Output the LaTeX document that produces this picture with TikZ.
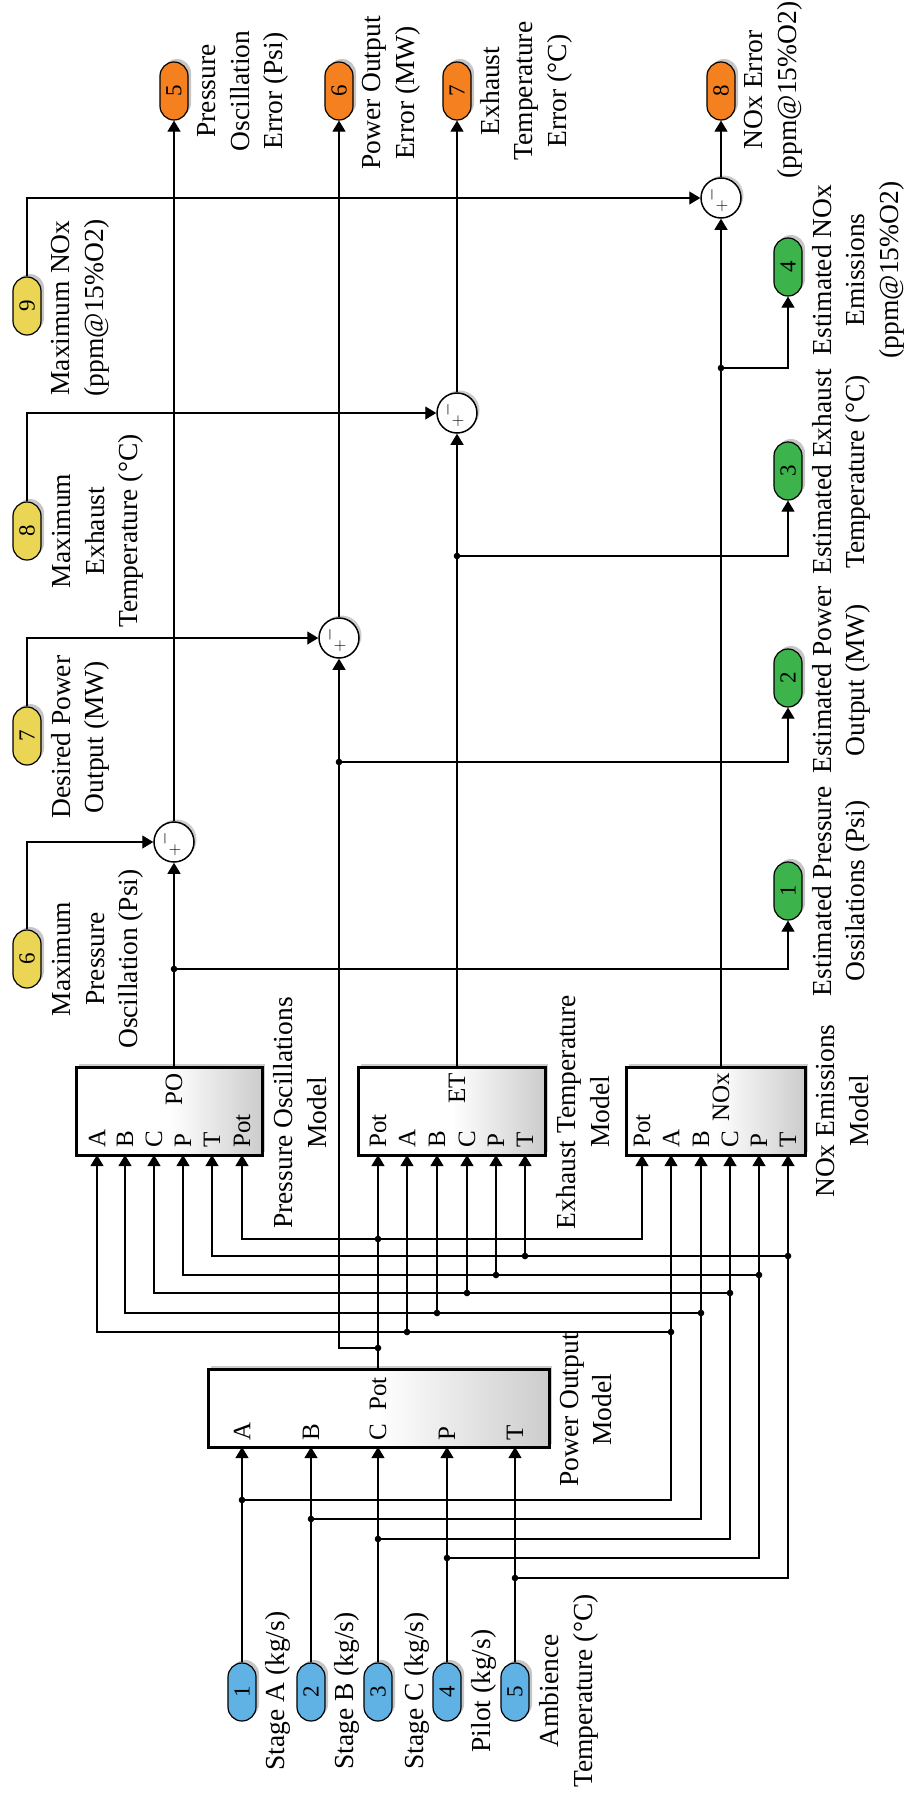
\documentclass[tikz,border=0pt]{standalone}
\usepackage{fontspec}
\setmainfont{Liberation Serif}
\usepackage{graphicx}
\usetikzlibrary{positioning, shadows, calc, arrows.meta}

\definecolor{inblue}{RGB}{96,178,228}
\definecolor{outgreen}{RGB}{60,180,75}
\definecolor{errorange}{RGB}{245,128,32}
\definecolor{refyellow}{RGB}{234,214,84}

\tikzset{
  pill/.style={draw=black, line width=1.2pt, rounded corners=14pt, minimum width=28pt, minimum height=58pt,
    inner sep=0pt, font=\fontsize{23}{23}\selectfont,
    drop shadow={shadow xshift=3pt, shadow yshift=3pt, opacity=0.45}},
  model/.style={draw=black, line width=3pt, inner sep=0pt, left color=white, right color=black!20, middle color=white,
    drop shadow={shadow xshift=3pt, shadow yshift=3pt, opacity=0.4}},
  sumnode/.style={circle, draw=black, line width=1.5pt, fill=white, minimum size=40pt, inner sep=0pt,
    drop shadow={shadow xshift=2.5pt, shadow yshift=2.5pt, opacity=0.4}},
  lbl/.style={rotate=90, align=center, font=\fontsize{27.5}{33.5}\selectfont, inner sep=0pt},
  plbl/.style={rotate=90, font=\fontsize{25}{25}\selectfont, inner sep=0pt},
  sgn/.style={inner sep=0pt, font=\fontsize{16}{16}\selectfont},
  wire/.style={line width=1.2pt},
  arr/.style={wire, -{Triangle[length=11pt, width=13pt]}}
}

\begin{document}
\begin{tikzpicture}[x=1pt, y=-1pt]
\useasboundingbox (0,0) rectangle (908,1796);

% inputs
\node[pill, fill=inblue] (in1) at (242,1692) {\rotatebox{90}{1}};
\node[pill, fill=inblue] (in2) at (311,1692) {\rotatebox{90}{2}};
\node[pill, fill=inblue] (in3) at (378,1692) {\rotatebox{90}{3}};
\node[pill, fill=inblue] (in4) at (447,1692) {\rotatebox{90}{4}};
\node[pill, fill=inblue] (in5) at (515,1692) {\rotatebox{90}{5}};
\node[lbl] (lin1) at (278,1691) {Stage A (kg/s)};
\node[lbl] (lin2) at (347,1691) {Stage B (kg/s)};
\node[lbl] (lin3) at (417,1691) {Stage C (kg/s)};
\node[lbl] (lin4) at (484,1691) {Pilot (kg/s)};
\node[lbl] (lin5) at (569,1691) {Ambience\\Temperature (°C)};

% references
\node[pill, fill=refyellow] (ref6) at (27,959) {\rotatebox{90}{6}};
\node[pill, fill=refyellow] (ref7) at (27,736) {\rotatebox{90}{7}};
\node[pill, fill=refyellow] (ref8) at (27,531) {\rotatebox{90}{8}};
\node[pill, fill=refyellow] (ref9) at (27,306) {\rotatebox{90}{9}};
\node[lbl] (lref6) at (98,959) {Maximum\\Pressure\\Oscillation (Psi)};
\node[lbl] (lref7) at (80.5,737) {Desired Power\\Output (MW)};
\node[lbl] (lref8) at (98,531) {Maximum\\Exhaust\\Temperature (°C)};
\node[lbl] (lref9) at (80.5,308) {Maximum NOx\\(ppm@15\%O2)};

% estimated outputs
\node[pill, fill=outgreen] (est1) at (788,891) {\rotatebox{90}{1}};
\node[pill, fill=outgreen] (est2) at (788,678) {\rotatebox{90}{2}};
\node[pill, fill=outgreen] (est3) at (788,471) {\rotatebox{90}{3}};
\node[pill, fill=outgreen] (est4) at (788,267) {\rotatebox{90}{4}};
\node[lbl] (lest1) at (841.5,891) {Estimated Pressure\\Ossilations (Psi)};
\node[lbl] (lest2) at (841.5,680) {Estimated Power\\Output (MW)};
\node[lbl] (lest3) at (841.5,472) {Estimated Exhaust\\Temperature (°C)};
\node[lbl] (lest4) at (858,270) {Estimated NOx\\Emissions\\(ppm@15\%O2)};

% error outputs
\node[pill, fill=errorange] (err5) at (174,91) {\rotatebox{90}{5}};
\node[pill, fill=errorange] (err6) at (339,91) {\rotatebox{90}{6}};
\node[pill, fill=errorange] (err7) at (457,91) {\rotatebox{90}{7}};
\node[pill, fill=errorange] (err8) at (721,91) {\rotatebox{90}{8}};
\node[lbl] (lerr5) at (243,91) {Pressure\\Oscillation\\Error (Psi)};
\node[lbl] (lerr6) at (391.5,93) {Power Output\\Error (MW)};
\node[lbl] (lerr7) at (526,91) {Exhaust\\Temperature\\Error (°C)};
\node[lbl] (lerr8) at (773.5,90) {NOx Error\\(ppm@15\%O2)};

% models
\node[model, minimum width=341pt, minimum height=78pt] (pow) at (378.5,1408) {};
\node[model, minimum width=186pt, minimum height=88pt] (pres) at (169,1111) {};
\node[model, minimum width=187pt, minimum height=88pt] (exh) at (451.5,1111) {};
\node[model, minimum width=179pt, minimum height=88pt] (nox) at (715.5,1111) {};
\node[lbl] (lpow) at (586,1410) {Power Output\\Model};
\node[lbl] (lpres) at (300,1113) {Pressure Oscillations\\Model};
\node[lbl] (lexh) at (583,1112) {Exhaust Temperature\\Model};
\node[lbl] (lnox) at (842.5,1111) {NOx Emissions\\Model};

% port labels
\node[plbl, anchor=west] (tpowA) at (242,1441) {A};
\node[plbl, anchor=west] (tpowB) at (311,1441) {B};
\node[plbl, anchor=west] (tpowC) at (378,1441) {C};
\node[plbl, anchor=west] (tpowP) at (447,1441) {P};
\node[plbl, anchor=west] (tpowT) at (515,1441) {T};
\node[plbl, anchor=east] (tpowO) at (378,1377) {Pot};
\node[plbl, anchor=west] (tpresA) at (97,1148) {A};
\node[plbl, anchor=west] (tpresB) at (125,1148) {B};
\node[plbl, anchor=west] (tpresC) at (154,1148) {C};
\node[plbl, anchor=west] (tpresP) at (183,1148) {P};
\node[plbl, anchor=west] (tpresT) at (212,1148) {T};
\node[plbl, anchor=west] (tpresPot) at (242,1148) {Pot};
\node[plbl, anchor=east] (tpresO) at (174,1073) {PO};
\node[plbl, anchor=west] (texhPot) at (378,1148) {Pot};
\node[plbl, anchor=west] (texhA) at (407,1148) {A};
\node[plbl, anchor=west] (texhB) at (437,1148) {B};
\node[plbl, anchor=west] (texhC) at (467,1148) {C};
\node[plbl, anchor=west] (texhP) at (496,1148) {P};
\node[plbl, anchor=west] (texhT) at (525,1148) {T};
\node[plbl, anchor=east] (texhO) at (457,1073) {ET};
\node[plbl, anchor=west] (tnoxPot) at (642,1148) {Pot};
\node[plbl, anchor=west] (tnoxA) at (671,1148) {A};
\node[plbl, anchor=west] (tnoxB) at (701,1148) {B};
\node[plbl, anchor=west] (tnoxC) at (730,1148) {C};
\node[plbl, anchor=west] (tnoxP) at (759,1148) {P};
\node[plbl, anchor=west] (tnoxT) at (788,1148) {T};
\node[plbl, anchor=east] (tnoxO) at (721,1073) {NOx};

% sums
\node[sumnode] (sPO) at (174,842) {};
\node[sumnode] (sPow) at (339,638) {};
\node[sumnode] (sET) at (457,413) {};
\node[sumnode] (sNOx) at (721,198) {};
\node[sgn, rotate=90] (mPO) at ($(sPO)+(-9,-3)$) {$-$};
\node[sgn] (pPO) at ($(sPO)+(1,8)$) {$+$};
\node[sgn, rotate=90] (mPow) at ($(sPow)+(-9,-3)$) {$-$};
\node[sgn] (pPow) at ($(sPow)+(1,8)$) {$+$};
\node[sgn, rotate=90] (mET) at ($(sET)+(-9,-3)$) {$-$};
\node[sgn] (pET) at ($(sET)+(1,8)$) {$+$};
\node[sgn, rotate=90] (mNOx) at ($(sNOx)+(-9,-3)$) {$-$};
\node[sgn] (pNOx) at ($(sNOx)+(1,8)$) {$+$};

% port points
\coordinate (powA) at (242,1447); \coordinate (powB) at (311,1447); \coordinate (powC) at (378,1447);
\coordinate (powP) at (447,1447); \coordinate (powT) at (515,1447); \coordinate (powO) at (378,1369);
\coordinate (presA) at (97,1155); \coordinate (presB) at (125,1155); \coordinate (presC) at (154,1155);
\coordinate (presP) at (183,1155); \coordinate (presT) at (212,1155); \coordinate (presPot) at (242,1155);
\coordinate (presO) at (174,1067);
\coordinate (exhPot) at (378,1155); \coordinate (exhA) at (407,1155); \coordinate (exhB) at (437,1155);
\coordinate (exhC) at (467,1155); \coordinate (exhP) at (496,1155); \coordinate (exhT) at (525,1155);
\coordinate (exhO) at (457,1067);
\coordinate (noxPot) at (642,1155); \coordinate (noxA) at (671,1155); \coordinate (noxB) at (701,1155);
\coordinate (noxC) at (730,1155); \coordinate (noxP) at (759,1155); \coordinate (noxT) at (788,1155);
\coordinate (noxO) at (721,1067);

% branch points
\coordinate (jA) at (242,1500); \coordinate (jB) at (311,1519); \coordinate (jC) at (378,1539);
\coordinate (jP) at (447,1558); \coordinate (jT) at (515,1578);
\coordinate (kA) at (671,1332); \coordinate (kB) at (701,1313); \coordinate (kC) at (730,1293);
\coordinate (kP) at (759,1275); \coordinate (kT) at (788,1256);
\coordinate (jPot) at (378,1348); \coordinate (kPot) at (378,1239);
\coordinate (jPO) at (174,969); \coordinate (jPow) at (339,762);
\coordinate (jET) at (457,556); \coordinate (jNOx) at (721,368);

% inputs to power output model
\draw[arr] (in1.north) -- (powA);
\draw[arr] (in2.north) -- (powB);
\draw[arr] (in3.north) -- (powC);
\draw[arr] (in4.north) -- (powP);
\draw[arr] (in5.north) -- (powT);

% inputs to nox model
\draw[arr] (jA) -| (noxA);
\draw[arr] (jB) -| (noxB);
\draw[arr] (jC) -| (noxC);
\draw[arr] (jP) -| (noxP);
\draw[arr] (jT) -| (noxT);

% inputs to pressure oscillation model
\draw[arr] (kA) -| (presA);
\draw[arr] (kB) -| (presB);
\draw[arr] (kC) -| (presC);
\draw[arr] (kP) -| (presP);
\draw[arr] (kT) -| (presT);

% inputs to exhaust temperature model
\draw[arr] (exhA |- kA) -- (exhA);
\draw[arr] (exhB |- kB) -- (exhB);
\draw[arr] (exhC |- kC) -- (exhC);
\draw[arr] (exhP |- kP) -- (exhP);
\draw[arr] (exhT |- kT) -- (exhT);

% power output feedback
\draw[wire] (powO) -- (jPot);
\draw[arr] (jPot) -- (exhPot);
\draw[arr] (kPot) -| (presPot);
\draw[arr] (kPot) -| (noxPot);
\draw[arr] (jPot) -| (sPow.south);
\draw[arr] (jPow) -| (est2.south);

% model outputs
\draw[arr] (presO) -- (sPO.south);
\draw[arr] (jPO) -| (est1.south);
\draw[arr] (exhO) -- (sET.south);
\draw[arr] (jET) -| (est3.south);
\draw[arr] (noxO) -- (sNOx.south);
\draw[arr] (jNOx) -| (est4.south);

% references into sums
\draw[arr] (ref6.north) |- (sPO.west);
\draw[arr] (ref7.north) |- (sPow.west);
\draw[arr] (ref8.north) |- (sET.west);
\draw[arr] (ref9.north) |- (sNOx.west);

% errors
\draw[arr] (sPO.north) -- (err5.south);
\draw[arr] (sPow.north) -- (err6.south);
\draw[arr] (sET.north) -- (err7.south);
\draw[arr] (sNOx.north) -- (err8.south);

% junction dots
\foreach \j in {jA,jB,jC,jP,jT,kA,kB,kC,kP,kT,jPot,kPot,jPO,jPow,jET,jNOx}
  \fill (\j) circle (3.3pt);
\fill (exhA |- kA) circle (3.3pt);
\fill (exhB |- kB) circle (3.3pt);
\fill (exhC |- kC) circle (3.3pt);
\fill (exhP |- kP) circle (3.3pt);
\fill (exhT |- kT) circle (3.3pt);

\end{tikzpicture}
\end{document}
